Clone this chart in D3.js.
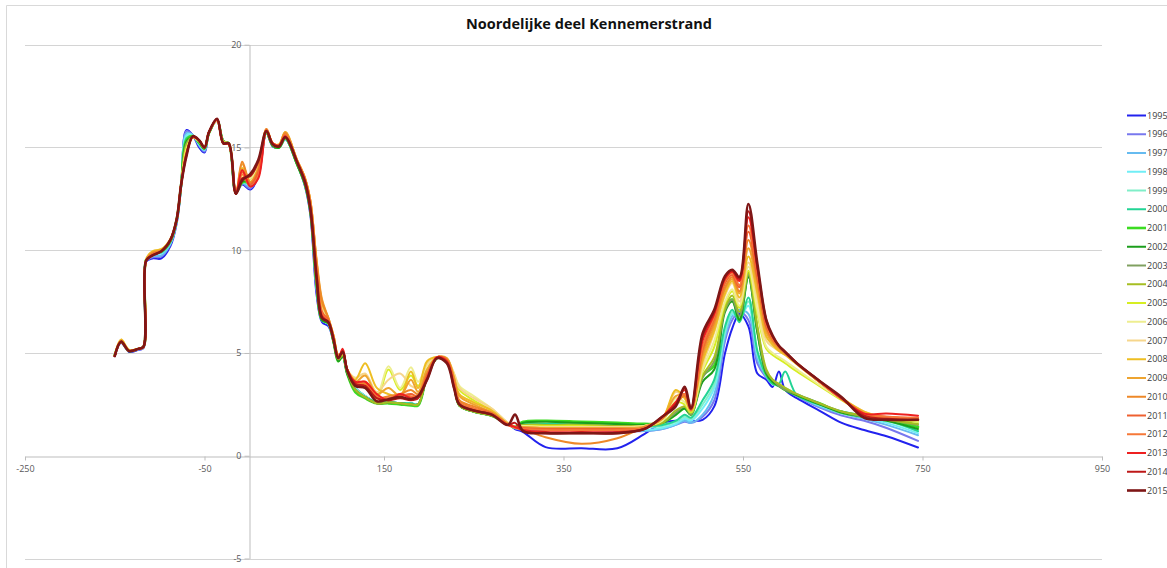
<!DOCTYPE html>
<html>
<head>
<meta charset="utf-8">
<script src="https://cdn.jsdelivr.net/npm/d3@7"></script>
<style>
  html, body { margin: 0; padding: 0; background: #fff; }
  svg { display: block; }
  .tick text { font-family: "Open Sans", "Liberation Sans", sans-serif; font-size: 9px; fill: #595959; }
</style>
</head>
<body>
<script>
// Distance along the cross-shore profile (m)
const distance = [-150,-143,-134,-124,-118,-115,-108,-98,-88,-81,-76,-70,-63,-56,-50,-45,-36,-29,-23,-15,-8,
  1,10,19,26,33,40,53,62,68,75,81,88,94,99,104,109,
  118,129,142,155,168,180,188,198,209,220,228,234,250,270,288,296,
  305,330,370,410,440,
  460,475,485,492,505,518,530,538,546,556,566,576,583,590,597,
  610,635,660,685,710,745];

const years = ["1995","1996","1997","1998","1999","2000","2001","2002","2003","2004","2005",
  "2006","2007","2008","2009","2010","2011","2012","2013","2014","2015"];

const xTicks = [-250, -50, 150, 350, 550, 750, 950];
const yTicks = [-5, 0, 5, 10, 15, 20];

// Surface height (m) per survey year, one value per distance
const h1995 = [4.85,5.5,5.05,5.15,5.25,9.45,9.6,9.6,10.2,11.3,13.1,15.85,15.6,15.0,14.75,15.7,16.3,15.3,15.2,12.8,13.2,
  12.95,13.6,15.7,15.05,15.0,15.4,14.2,13.1,11.7,7.8,6.5,6.3,5.5,4.7,4.8,4.0,
  3.3,2.9,2.6,2.6,2.55,2.55,2.5,3.9,4.75,4.7,3.5,2.45,2.15,1.95,1.55,1.3,
  1.15,0.42,0.37,0.36,1.05,
  1.6,1.7,1.72,1.7,1.75,2.4,5.0,6.2,6.9,6.3,4.0,3.7,3.35,4.1,3.2,
  2.8,2.2,1.6,1.25,0.95,0.4];
const h1996 = [4.9,5.5,5.1,5.15,5.25,9.45,9.65,9.7,10.3,11.4,13.1,15.8,15.6,15.1,14.8,15.7,16.3,15.3,15.2,12.8,13.25,
  13.0,13.7,15.7,15.1,15.0,15.4,14.2,13.2,11.8,8.0,6.6,6.4,5.5,4.7,4.85,4.05,
  3.3,2.9,2.6,2.6,2.55,2.55,2.5,3.9,4.75,4.7,3.5,2.45,2.15,1.95,1.55,1.35,
  1.25,1.25,1.25,1.2,1.2,
  1.3,1.5,1.65,1.6,1.9,2.7,5.6,6.6,7.0,6.6,4.5,3.8,3.5,3.4,3.25,
  2.9,2.35,1.95,1.7,1.35,0.72];
const h1997 = [4.9,5.55,5.1,5.2,5.25,9.5,9.7,9.75,10.3,11.4,13.1,15.7,15.6,15.1,14.85,15.7,16.3,15.3,15.2,12.8,13.25,
  13.1,13.8,15.7,15.1,15.0,15.4,14.2,13.2,11.9,8.1,6.6,6.4,5.5,4.7,4.85,4.05,
  3.3,2.9,2.6,2.6,2.55,2.55,2.5,3.9,4.75,4.7,3.5,2.45,2.15,1.95,1.55,1.35,
  1.3,1.3,1.3,1.25,1.2,
  1.3,1.5,1.7,1.6,2.0,3.0,5.8,6.8,7.1,6.9,4.7,3.85,3.5,3.4,3.25,
  2.95,2.4,2.05,1.8,1.5,1.0];
const h1998 = [4.9,5.55,5.1,5.2,5.3,9.5,9.8,9.85,10.35,11.4,13.15,15.6,15.6,15.15,14.9,15.7,16.3,15.3,15.2,12.8,13.3,
  13.2,13.9,15.7,15.1,15.0,15.4,14.2,13.2,11.9,8.2,6.6,6.4,5.5,4.7,4.9,4.1,
  3.3,2.9,2.6,2.6,2.55,2.55,2.5,3.9,4.75,4.7,3.5,2.45,2.15,1.95,1.55,1.35,
  1.35,1.35,1.35,1.3,1.25,
  1.35,1.55,1.8,1.7,2.3,3.3,6.0,6.9,6.7,7.3,4.9,3.9,3.5,3.4,3.25,
  2.95,2.45,2.1,1.85,1.6,1.1];
const h1999 = [4.9,5.55,5.1,5.2,5.3,9.55,9.85,9.9,10.4,11.45,13.15,15.5,15.55,15.2,14.9,15.7,16.35,15.3,15.2,12.8,13.3,
  13.3,14.0,15.7,15.1,15.0,15.45,14.2,13.2,11.9,8.2,6.6,6.45,5.5,4.7,4.9,4.1,
  3.3,2.9,2.6,2.6,2.55,2.55,2.5,3.9,4.75,4.7,3.5,2.45,2.15,1.95,1.55,1.35,
  1.5,1.5,1.5,1.45,1.4,
  1.45,1.65,1.9,1.8,2.5,3.5,6.1,7.0,6.6,7.5,5.0,3.9,3.5,3.4,3.3,
  3.0,2.5,2.15,1.9,1.7,1.2];
const h2000 = [4.9,5.55,5.1,5.2,5.3,9.55,9.85,9.9,10.4,11.45,13.2,15.45,15.55,15.2,14.95,15.7,16.35,15.3,15.2,12.8,13.3,
  13.3,14.0,15.7,15.1,15.0,15.45,14.2,13.2,11.9,8.2,6.6,6.45,5.5,4.7,4.9,4.1,
  3.2,2.85,2.6,2.6,2.55,2.55,2.5,3.9,4.75,4.7,3.5,2.45,2.15,1.95,1.55,1.35,
  1.55,1.55,1.55,1.5,1.45,
  1.5,1.7,2.0,1.85,2.7,3.7,6.3,7.1,6.5,7.7,5.1,3.9,3.5,3.5,4.1,
  2.95,2.5,2.15,1.95,1.75,1.2];
const h2001 = [4.9,5.55,5.1,5.2,5.3,9.55,9.85,9.95,10.45,11.5,13.2,15.35,15.55,15.25,14.95,15.7,16.35,15.3,15.2,12.8,13.3,
  13.4,14.1,15.75,15.1,15.0,15.45,14.2,13.2,11.9,8.3,6.6,6.45,5.5,4.6,4.85,4.0,
  3.1,2.8,2.55,2.55,2.5,2.45,2.45,3.9,4.75,4.7,3.5,2.45,2.15,1.95,1.55,1.4,
  1.65,1.7,1.65,1.6,1.55,
  1.6,2.0,2.3,2.0,3.9,4.4,7.3,7.6,6.6,8.75,6.1,4.0,3.6,3.4,3.2,
  2.95,2.55,2.1,1.9,1.75,1.4];
const h2002 = [4.9,5.55,5.1,5.2,5.3,9.55,9.85,9.95,10.45,11.5,13.2,15.3,15.5,15.25,14.95,15.7,16.35,15.3,15.2,12.8,13.35,
  13.4,14.1,15.75,15.1,15.0,15.5,14.2,13.2,11.9,8.3,6.6,6.45,5.5,4.6,4.85,4.0,
  3.2,2.85,2.55,2.6,2.55,2.5,2.5,3.9,4.75,4.7,3.5,2.45,2.15,1.95,1.55,1.4,
  1.6,1.65,1.6,1.55,1.5,
  1.6,2.0,2.3,2.0,3.6,4.2,7.0,7.5,6.6,8.7,6.0,4.0,3.6,3.4,3.2,
  2.95,2.5,2.1,1.9,1.7,1.3];
const h2003 = [4.9,5.55,5.1,5.2,5.3,9.55,9.9,10.0,10.5,11.5,13.2,15.2,15.5,15.3,15.0,15.7,16.35,15.3,15.2,12.8,13.4,
  13.5,14.1,15.75,15.15,15.05,15.5,14.3,13.3,12.0,8.4,6.7,6.5,5.6,4.7,4.9,4.1,
  3.2,2.85,2.55,2.6,2.55,2.5,2.5,3.9,4.75,4.7,3.5,2.45,2.15,1.95,1.55,1.4,
  1.5,1.5,1.5,1.45,1.45,
  1.6,2.1,2.4,2.0,3.8,4.6,7.1,7.6,6.8,8.8,6.2,4.1,3.7,3.4,3.2,
  3.0,2.55,2.15,1.9,1.75,1.5];
const h2004 = [4.9,5.55,5.1,5.2,5.3,9.55,9.9,10.0,10.5,11.5,13.2,15.1,15.5,15.3,15.0,15.7,16.35,15.3,15.2,12.8,13.4,
  13.5,14.1,15.75,15.15,15.05,15.5,14.3,13.3,12.0,8.4,6.7,6.5,5.6,4.7,4.9,4.1,
  3.2,2.85,2.55,2.6,2.55,2.5,2.5,3.9,4.75,4.7,3.5,2.45,2.15,1.95,1.55,1.4,
  1.5,1.5,1.5,1.45,1.45,
  1.6,2.2,2.4,2.1,3.9,4.8,7.2,7.8,7.0,8.9,6.3,4.2,3.7,3.5,3.3,
  3.0,2.55,2.15,1.95,1.75,1.55];
const h2005 = [4.9,5.6,5.15,5.2,5.3,9.55,9.9,10.0,10.5,11.5,13.2,15.0,15.5,15.3,15.0,15.75,16.3,15.25,15.2,12.75,13.5,
  13.5,14.1,15.8,15.15,15.1,15.6,14.3,13.4,12.1,8.6,6.9,6.55,5.6,4.8,4.95,4.15,
  3.5,3.3,2.8,4.2,3.2,3.9,3.4,4.2,4.75,4.6,3.9,3.2,2.7,2.2,1.6,1.4,
  1.45,1.45,1.45,1.4,1.45,
  1.7,2.6,2.5,2.1,4.1,5.3,7.4,8.0,7.2,9.0,6.9,5.2,4.9,4.7,4.5,
  4.1,3.4,2.7,2.1,1.85,1.65];
const h2006 = [4.9,5.6,5.15,5.2,5.3,9.55,9.95,10.05,10.5,11.5,13.2,14.9,15.5,15.3,15.0,15.75,16.3,15.25,15.2,12.75,13.6,
  13.5,14.1,15.8,15.2,15.1,15.6,14.3,13.4,12.2,8.8,7.0,6.6,5.7,4.8,5.0,4.2,
  3.6,3.4,3.0,4.35,3.3,4.3,3.6,4.4,4.75,4.65,4.0,3.4,2.9,2.3,1.6,1.4,
  1.45,1.4,1.4,1.4,1.45,
  1.7,2.8,2.6,2.2,4.2,5.6,7.5,8.1,7.3,9.2,7.1,5.3,5.0,4.8,4.6,
  4.2,3.45,2.75,2.1,1.85,1.7];
const h2007 = [4.9,5.65,5.15,5.2,5.3,9.55,9.95,10.05,10.55,11.5,13.2,14.8,15.5,15.35,15.0,15.75,16.3,15.2,15.2,12.75,13.8,
  13.4,14.0,15.8,15.2,15.15,15.7,14.4,13.5,12.3,9.1,7.2,6.6,5.7,4.85,5.0,4.2,
  3.8,4.0,3.1,3.7,4.0,3.4,3.3,4.5,4.8,4.7,4.0,3.3,2.8,2.3,1.6,1.4,
  1.4,1.4,1.4,1.4,1.45,
  1.8,3.1,2.8,2.2,4.4,6.0,7.8,8.4,7.5,9.4,7.6,5.6,5.3,5.1,4.9,
  4.45,3.6,2.8,2.15,1.85,1.75];
const h2008 = [4.85,5.65,5.15,5.2,5.3,9.55,9.95,10.05,10.55,11.5,13.2,14.8,15.5,15.35,15.0,15.75,16.35,15.2,15.2,12.75,14.0,
  13.3,14.0,15.85,15.2,15.15,15.75,14.4,13.5,12.4,9.4,7.4,6.7,5.8,4.9,5.0,4.2,
  3.7,4.5,3.3,3.0,2.9,4.1,3.3,4.6,4.8,4.7,3.8,3.0,2.6,2.2,1.55,1.4,
  1.4,1.35,1.35,1.35,1.4,
  1.8,3.2,2.8,2.2,4.6,6.1,7.9,8.5,7.7,9.7,7.9,5.8,5.4,5.1,4.9,
  4.45,3.6,2.8,2.15,1.85,1.75];
const h2009 = [4.85,5.6,5.1,5.2,5.3,9.5,9.9,10.0,10.5,11.5,13.2,14.75,15.5,15.35,15.0,15.75,16.35,15.2,15.15,12.75,14.2,
  13.3,14.0,15.9,15.2,15.1,15.75,14.4,13.5,12.4,9.5,7.6,6.7,5.8,4.9,5.0,4.2,
  3.6,3.9,3.0,3.3,2.9,3.7,3.1,4.2,4.8,4.75,3.8,2.9,2.5,2.1,1.55,1.4,
  1.4,1.35,1.35,1.35,1.4,
  1.8,2.9,2.9,2.2,4.8,6.3,8.1,8.6,7.9,10.1,8.2,6.0,5.5,5.2,4.95,
  4.5,3.6,2.8,2.1,1.85,1.8];
const h2010 = [4.85,5.6,5.1,5.2,5.3,9.5,9.85,10.0,10.5,11.5,13.2,14.7,15.5,15.35,15.0,15.75,16.35,15.2,15.15,12.75,14.3,
  13.3,13.9,15.9,15.2,15.1,15.7,14.4,13.5,12.4,9.4,7.5,6.7,5.8,4.9,5.0,4.2,
  3.5,3.5,2.8,2.9,3.0,3.2,3.0,4.0,4.8,4.7,3.7,2.7,2.4,2.1,1.55,1.4,
  1.3,0.9,0.58,0.85,1.4,
  1.8,2.5,2.9,2.2,5.0,6.5,8.2,8.7,8.0,10.5,8.5,6.2,5.6,5.3,5.0,
  4.5,3.6,2.8,2.05,1.85,1.8];
const h2011 = [4.85,5.55,5.1,5.2,5.3,9.5,9.8,9.95,10.5,11.5,13.2,14.7,15.5,15.35,15.0,15.75,16.35,15.2,15.15,12.75,13.8,
  13.2,13.8,15.85,15.2,15.1,15.6,14.35,13.4,12.2,9.0,7.0,6.6,5.7,4.8,5.1,4.2,
  3.5,3.4,2.8,2.8,2.9,3.0,2.9,3.9,4.8,4.65,3.5,2.6,2.3,2.05,1.5,1.4,
  1.35,1.3,1.3,1.3,1.35,
  1.85,2.6,3.0,2.25,5.2,6.7,8.4,8.8,8.2,10.9,8.7,6.3,5.7,5.3,5.0,
  4.5,3.6,2.75,2.05,1.9,1.85];
const h2012 = [4.85,5.55,5.1,5.2,5.3,9.5,9.8,9.95,10.5,11.5,13.2,14.7,15.5,15.35,15.0,15.75,16.35,15.2,15.15,12.75,13.7,
  13.1,13.6,15.8,15.2,15.1,15.6,14.35,13.4,12.1,8.9,6.9,6.55,5.7,4.8,5.1,4.2,
  3.5,3.6,2.9,2.8,3.0,2.9,2.9,3.8,4.8,4.6,3.5,2.6,2.3,2.0,1.5,1.35,
  1.3,1.25,1.25,1.25,1.35,
  1.85,2.6,3.0,2.25,5.3,6.8,8.5,8.9,8.3,11.2,8.9,6.4,5.7,5.3,5.0,
  4.5,3.6,2.75,2.05,1.9,1.85];
const h2013 = [4.85,5.55,5.1,5.2,5.3,9.5,9.75,9.95,10.5,11.5,13.2,14.7,15.5,15.35,15.0,15.75,16.35,15.2,15.15,12.75,13.9,
  13.1,13.5,15.8,15.2,15.1,15.55,14.3,13.4,12.1,8.8,6.8,6.5,5.6,4.75,5.2,4.2,
  3.6,3.6,3.0,2.7,3.0,2.8,2.9,3.8,4.8,4.6,3.4,2.5,2.2,2.0,1.5,1.4,
  1.25,1.15,1.15,1.15,1.3,
  1.9,2.6,3.2,2.3,5.6,6.9,8.6,8.95,8.5,11.6,9.1,6.5,5.8,5.35,5.05,
  4.5,3.65,2.8,2.05,2.05,1.95];
const h2014 = [4.85,5.55,5.1,5.2,5.3,9.5,9.75,9.95,10.5,11.5,13.2,14.65,15.55,15.35,15.0,15.75,16.4,15.2,15.2,12.75,13.5,
  13.6,14.3,15.8,15.15,15.05,15.5,14.3,13.3,12.0,8.6,6.7,6.5,5.6,4.75,5.1,4.15,
  3.5,3.4,2.8,2.7,2.8,2.7,2.8,3.7,4.75,4.55,3.3,2.5,2.2,2.0,1.5,1.6,
  1.2,1.1,1.1,1.1,1.3,
  1.9,2.5,3.3,2.3,5.8,7.0,8.7,9.0,8.6,11.9,9.2,6.6,5.8,5.35,5.05,
  4.5,3.65,2.8,1.95,1.8,1.75];
const h2015 = [4.85,5.55,5.1,5.2,5.3,9.5,9.75,9.95,10.5,11.5,13.2,14.6,15.55,15.35,15.0,15.75,16.4,15.2,15.2,12.75,13.4,
  13.7,14.4,15.8,15.15,15.05,15.5,14.3,13.3,12.0,8.6,6.7,6.5,5.6,4.75,5.05,4.15,
  3.4,3.3,2.65,2.75,2.85,2.75,2.9,3.7,4.75,4.5,3.3,2.5,2.2,2.0,1.5,2.0,
  1.2,1.1,1.1,1.1,1.3,
  1.9,2.4,3.35,2.3,5.95,7.1,8.75,9.05,8.7,12.25,9.35,6.6,5.85,5.35,5.05,
  4.5,3.65,2.85,1.85,1.75,1.75];

const heights = [h1995,h1996,h1997,h1998,h1999,h2000,h2001,h2002,h2003,h2004,h2005,
  h2006,h2007,h2008,h2009,h2010,h2011,h2012,h2013,h2014,h2015];

// Line colour per year, blue (oldest) through green and yellow to dark red (newest)
const yearColors = ["#2222ee","#7878ee","#66bbf0","#70eef6","#80eec8","#22d494","#3cdc22","#1c9e1c",
  "#80a060","#a6be22","#d6ee22","#eeee90","#f6d68c","#eebe22","#eea430","#ee8828","#ee6030",
  "#f67838","#ee2020","#be1818","#7e1616"];

const W = 1167, H = 568;
const svg = d3.select("body").append("svg").attr("width", W).attr("height", H);

const x = d3.scaleLinear().domain([-250, 950]).range([25, 1102]);
const y = d3.scaleLinear().domain([-5, 20]).range([558.5, 44.7]);
const color = d3.scaleOrdinal(years, yearColors);

// chart frame
svg.append("path")
  .attr("d", `M6.5,${H + 2} V5.5 H${W + 2}`)
  .attr("fill", "none").attr("stroke", "#d9d9d9").attr("stroke-width", 1);

// title
svg.append("text")
  .attr("x", 589).attr("y", 29)
  .attr("text-anchor", "middle")
  .style("font-family", "'Open Sans', 'Liberation Sans', sans-serif")
  .style("font-weight", "bold").style("font-size", "14.5px").style("fill", "#111")
  .text("Noordelijke deel Kennemerstrand");

// horizontal gridlines
svg.append("g").selectAll("line")
  .data(yTicks.filter(d => d !== 0))
  .join("line")
  .attr("x1", x(-250)).attr("x2", x(950))
  .attr("y1", d => Math.round(y(d)) + 0.5).attr("y2", d => Math.round(y(d)) + 0.5)
  .attr("stroke", "#d4d4d4").attr("stroke-width", 1);

// x axis along height 0
const xAxis = svg.append("g")
  .attr("transform", `translate(0,${Math.round(y(0)) + 0.5})`)
  .call(d3.axisBottom(x).tickValues(xTicks).tickFormat(d => String(d))
    .tickSize(4).tickSizeOuter(0).tickPadding(5));
xAxis.select(".domain").attr("stroke", "#bdbdbd");
xAxis.selectAll(".tick line").attr("stroke", "#bdbdbd");

// y axis at distance 0
const yAxis = svg.append("g")
  .attr("transform", `translate(${Math.round(x(0)) + 0.5},0)`)
  .call(d3.axisLeft(y).tickValues(yTicks).tickFormat(d => String(d))
    .tickSize(5).tickSizeOuter(0).tickPadding(3));
yAxis.select(".domain").attr("stroke", "#bdbdbd");
yAxis.selectAll(".tick line").attr("stroke", "#bdbdbd");

// profile lines
const line = d3.line()
  .x((d, i) => x(distance[i]))
  .y(d => y(d))
  .curve(d3.curveCatmullRom.alpha(0.5));

const thick = new Set(["2001", "2015"]);

svg.append("g").selectAll("path")
  .data(years.map((yr, i) => ({ year: yr, values: heights[i] })))
  .join("path")
  .attr("d", d => line(d.values))
  .attr("fill", "none")
  .attr("stroke", d => color(d.year))
  .attr("stroke-width", d => thick.has(d.year) ? 2.6 : 2)
  .attr("stroke-linejoin", "round")
  .attr("stroke-linecap", "round");

// legend
const legend = svg.append("g").selectAll("g")
  .data(years)
  .join("g")
  .attr("transform", (d, i) => `translate(1127,${115.5 + i * 18.75})`);
legend.append("line")
  .attr("x1", 0).attr("x2", 19)
  .attr("stroke", d => color(d))
  .attr("stroke-width", d => thick.has(d) ? 2.6 : 2);
legend.append("text")
  .attr("x", 20).attr("dy", "0.35em")
  .style("font-family", "'Open Sans', 'Liberation Sans', sans-serif")
  .style("font-size", "9px").style("fill", "#404040")
  .text(d => d);
</script>
</body>
</html>
